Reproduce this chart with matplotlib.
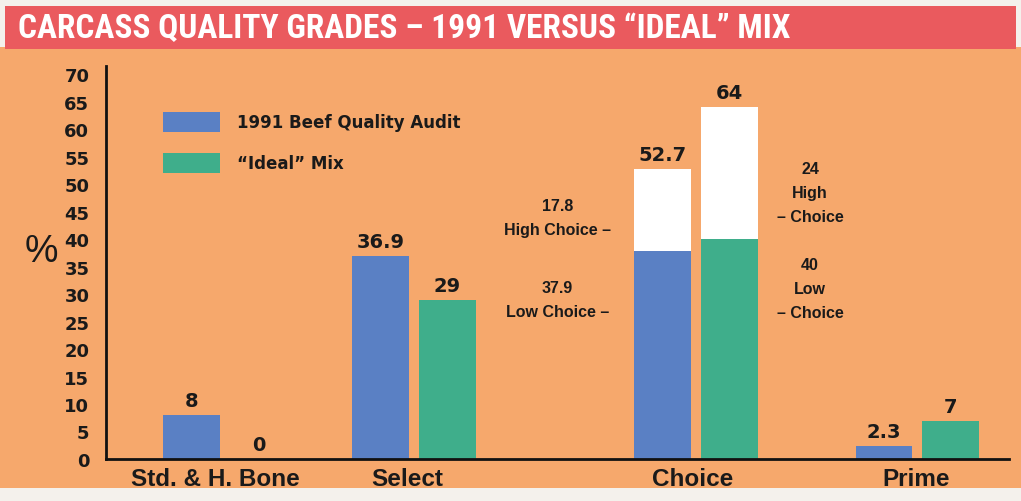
import matplotlib.pyplot as plt
from matplotlib.patches import Rectangle

# Data
categories = ['Std. & H. Bone', 'Select', 'Choice', 'Prime']
audit_1991 = [8, 36.9, 52.7, 2.3]
ideal_mix = [0, 29, 64, 7]
low_choice = [37.9, 40]      # 1991, ideal
high_choice = [17.8, 24]     # 1991, ideal
yticks = list(range(0, 75, 5))

BG = '#F6A86C'
RED = '#EA5A5E'
BLUE = '#5A80C4'
GREEN = '#3FAE8B'
INK = '#1a1a1a'
NARROW = ['Liberation Sans Narrow', 'DejaVu Sans Condensed', 'Roboto Condensed',
          'Liberation Sans']
SANS = ['Liberation Sans', 'DejaVu Sans']
WIDE = ['DejaVu Sans']

fig = plt.figure(figsize=(10.21, 5.02), dpi=100)
fig.patch.set_facecolor('#F4F1EC')

# orange panel and red title banner
fig.patches.append(Rectangle((0.0, 0.025), 1.0, 0.88, transform=fig.transFigure,
                             facecolor=BG, edgecolor='none', zorder=-2))
fig.patches.append(Rectangle((0.005, 0.9), 0.99, 0.087, transform=fig.transFigure,
                             facecolor=RED, edgecolor='none', zorder=-2))
fig.text(0.018, 0.942, 'CARCASS QUALITY GRADES \u2013 1991 VERSUS \u201cIDEAL\u201d MIX',
         color='white', fontsize=24, fontweight='bold', family=NARROW, va='center')

ax = fig.add_axes([0.1038, 0.0837, 0.884, 0.783])
ax.set_facecolor('none')
ax.set_zorder(2)

# group centres and bar layout
group_x = [1.32, 3.41, 6.54, 8.99]
label_x = [1.21, 3.34, 6.50, 8.98]
w = 0.63
off = 0.37
xb = [g - off for g in group_x]
xg = [g + off for g in group_x]

ax.bar(xb[:2] + xb[3:], audit_1991[:2] + audit_1991[3:], width=w, color=BLUE, zorder=2)
ax.bar(xg[:2] + xg[3:], ideal_mix[:2] + ideal_mix[3:], width=w, color=GREEN, zorder=2)

# Choice: low choice coloured, high choice in white on top
ax.bar(xb[2], low_choice[0], width=w, color=BLUE, zorder=2)
ax.bar(xg[2], low_choice[1], width=w, color=GREEN, zorder=2)
ax.bar(xb[2], audit_1991[2] - low_choice[0], bottom=low_choice[0], width=w,
       color='white', zorder=2)
ax.bar(xg[2], ideal_mix[2] - low_choice[1], bottom=low_choice[1], width=w,
       color='white', zorder=2)

lab = dict(fontsize=14, fontweight='bold', family=WIDE, ha='center', va='bottom',
           color=INK)
for x, v in zip(xb, audit_1991):
    ax.text(x, v + 0.9, f'{v:g}', **lab)
for x, v in zip(xg, ideal_mix):
    ax.text(x, v + 0.9, f'{v:g}', **lab)

note = dict(fontsize=11.5, fontweight='bold', family=SANS, ha='center', va='center',
            color=INK, linespacing=1.75)
ax.text(5.0, 44.0, f'{high_choice[0]:g}\nHigh Choice \u2013', **note)
ax.text(5.0, 29.0, f'{low_choice[0]:g}\nLow Choice \u2013', **note)
ax.text(7.8, 48.5, f'{high_choice[1]:g}\nHigh\n\u2013 Choice', **note)
ax.text(7.8, 31.0, f'{low_choice[1]:g}\nLow\n\u2013 Choice', **note)

# legend drawn as patches
ax.add_patch(Rectangle((0.63, 59.5), 0.63, 3.6, facecolor=BLUE, edgecolor='none'))
ax.add_patch(Rectangle((0.63, 52.1), 0.63, 3.6, facecolor=GREEN, edgecolor='none'))
leg = dict(fontsize=12, fontweight='bold', family=WIDE, va='center', color=INK)
ax.text(1.45, 61.3, '1991 Beef Quality Audit', **leg)
ax.text(1.45, 53.9, '\u201cIdeal\u201d Mix', **leg)

ax.set_xlim(0, 10)
ax.set_ylim(0, 71.5)
ax.set_yticks(yticks)
ax.set_yticklabels([str(t) for t in yticks], fontsize=13, fontweight='bold',
                   family=WIDE, color=INK)
ax.set_xticks(label_x)
ax.set_xticklabels(categories, fontsize=17.5, fontweight='bold', family=SANS,
                   color=INK)
ax.tick_params(axis='y', length=0, pad=12)
ax.tick_params(axis='x', length=0, pad=6)
for s in ['top', 'right']:
    ax.spines[s].set_visible(False)
for s in ['left', 'bottom']:
    ax.spines[s].set_linewidth(2)
    ax.spines[s].set_color('#111111')

fig.text(0.041, 0.498, '%', fontsize=27, family=SANS, color=INK,
         ha='center', va='center')

fig.savefig('out.png', dpi=100, facecolor=fig.get_facecolor())
